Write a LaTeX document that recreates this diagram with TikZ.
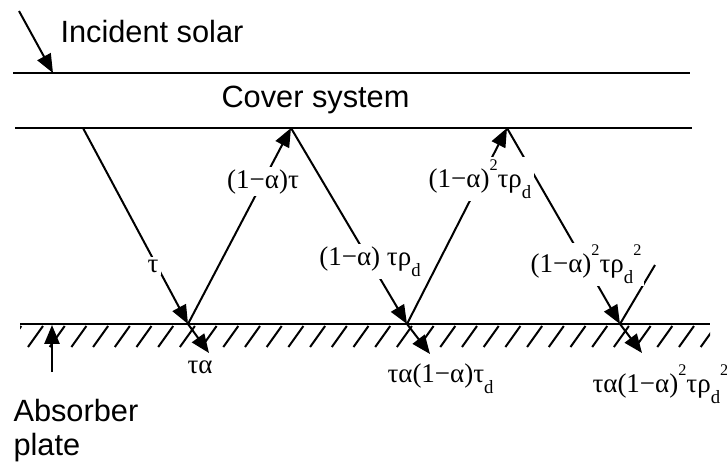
\documentclass[tikz,border=0pt]{standalone}
\usepackage{fontspec}
\setmainfont{Liberation Sans}
\newfontfamily\grkfont{Liberation Serif}
\usetikzlibrary{arrows.meta}
\newcommand\subd{\raisebox{-4.5pt}{\fontsize{7.5}{8}\selectfont d}}
\newcommand\suptwo{\raisebox{6.5pt}{\fontsize{6.5}{7}\selectfont 2}}

\begin{document}
\begin{tikzpicture}[x=0.4pt,y=-0.4pt,
txt/.style={font=\fontsize{12.3}{14}\selectfont,inner sep=0pt},
lbl/.style={font=\grkfont\fontsize{10.8}{12}\selectfont,fill=white,inner sep=1pt},
bot/.style={font=\grkfont\fontsize{10.8}{12}\selectfont,inner sep=0pt,anchor=base west},
surf/.style={line width=1.1pt},
ray/.style={line width=0.8pt},
arr/.style={ray,-{Triangle[length=7.5pt,width=6pt]}},
hatch/.style={line width=0.8pt}]
\useasboundingbox (0,0) rectangle (727,462);
% surfaces
\coordinate (cvA) at (13,73);  \coordinate (cvB) at (690,73);
\coordinate (cvC) at (15,128); \coordinate (cvD) at (692,128);
\coordinate (abA) at (20,324); \coordinate (abB) at (710,324);
\draw[surf] (cvA) -- (cvB);
\draw[surf] (cvC) -- (cvD);
\draw[surf] (abA) -- (abB);
\begin{scope}
\clip (20,320) rectangle (710,350);
\foreach \x in {6.3,28,...,720}
  \draw[hatch] (\x,347) -- ++(15,-21);
\end{scope}
% texts
\node[txt,anchor=base west] (inc) at (60,42) {Incident solar};
\node[txt,anchor=base west] (cov) at (221,107) {Cover system};
\node[txt,anchor=base west] (abs) at (13,421) {Absorber};
\node[txt,anchor=base west] (plate) at (13,455) {plate};
% incident and plate arrows
\coordinate (sun) at (19,11);  \coordinate (hit) at (53,73);
\draw[arr] (sun) -- (hit);
\coordinate (pl0) at (52,372); \coordinate (pl1) at (52,325);
\draw[arr] (pl0) -- (pl1);
% ray path between cover and plate
\coordinate (t0) at (83,128);
\coordinate (b1) at (188,324);
\coordinate (t1) at (291,128);
\coordinate (b2) at (407,324);
\coordinate (t2) at (507,128);
\coordinate (b3) at (620,324);
\coordinate (e3) at (655,265);
\draw[arr] (t0) -- (b1);
\draw[arr] (b1) -- (t1);
\draw[arr] (t1) -- (b2);
\draw[arr] (b2) -- (t2);
\draw[arr] (t2) -- (b3);
\draw[ray] (b3) -- (e3);
% absorbed parts
\coordinate (a1) at (209,353);
\coordinate (a2) at (430,354);
\coordinate (a3) at (642,353);
\draw[arr] (b1) -- (a1);
\draw[arr] (b2) -- (a2);
\draw[arr] (b3) -- (a3);
% labels on rays
\node[lbl,anchor=base] (l1) at (153,272) {τ};
\node[lbl,anchor=base] (l2) at (263,188) {(1−α)τ};
\node[lbl,anchor=base] (l3) at (370,265) {(1−α) τρ\subd};
\node[lbl,anchor=base] (l4) at (480,187) {(1−α)\suptwo τρ\subd};
\node[lbl,anchor=base] (l5) at (586,272) {(1−α)\suptwo τρ\subd\suptwo};
% absorbed labels
\node[bot] (q1) at (187,373) {τα};
\node[bot] (q2) at (387,382) {τα(1−α)τ\subd};
\node[bot] (q3) at (592,392) {τα(1−α)\suptwo τρ\subd\suptwo};
\end{tikzpicture}
\end{document}
